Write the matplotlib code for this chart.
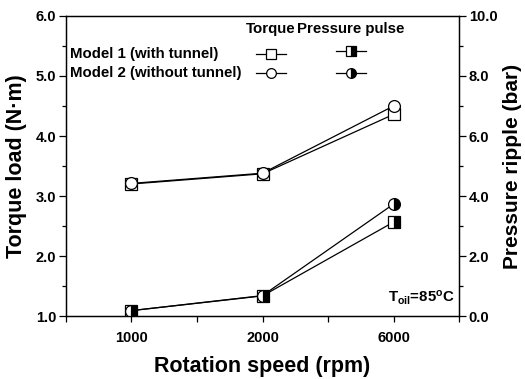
import matplotlib
matplotlib.use("Agg")
import matplotlib.pyplot as plt
import numpy as np
from matplotlib.lines import Line2D
from matplotlib.ticker import MultipleLocator, FormatStrFormatter

plt.rcParams["font.family"] = ["Liberation Sans", "DejaVu Sans"]
plt.rcParams["font.weight"] = "bold"
plt.rcParams["mathtext.fontset"] = "custom"
plt.rcParams["mathtext.rm"] = "Liberation Sans:bold"
plt.rcParams["mathtext.it"] = "Liberation Sans:bold"
plt.rcParams["mathtext.bf"] = "Liberation Sans:bold"

# rotation speeds (categorical on the x axis)
speeds = ["1000", "2000", "6000"]

# torque load, N*m
torque_model1 = [3.20, 3.37, 4.36]
torque_model2 = [3.21, 3.38, 4.50]

# pressure ripple, bar
pressure_model1 = [0.18, 0.67, 3.13]
pressure_model2 = [0.18, 0.68, 3.73]

model_labels = ["Model 1 (with tunnel)", "Model 2 (without tunnel)"]

x = np.arange(1, len(speeds) + 1)

fig = plt.figure(figsize=(5.25, 3.79), dpi=100)
ax = fig.add_axes([0.1257, 0.1662, 0.7486, 0.7916])
ax2 = ax.twinx()

line_kw = dict(color="black", lw=0.9, ms=8.5, markeredgewidth=0.9,
               markeredgecolor="black")

ax.plot(x, torque_model1, marker="s", mfc="white", **line_kw)
ax.plot(x, torque_model2, marker="o", mfc="white", **line_kw)
ax2.plot(x, pressure_model1, marker="s", fillstyle="right", mfc="black",
         markerfacecoloralt="white", **line_kw)
ax2.plot(x, pressure_model2, marker="o", fillstyle="right", mfc="black",
         markerfacecoloralt="white", **line_kw)

ax.set_xlim(0.5, 3.5)
ax.set_ylim(1.0, 6.0)
ax2.set_ylim(0.0, 10.0)

ax.set_xticks(x)
ax.set_xticklabels(speeds)
ax.xaxis.set_minor_locator(MultipleLocator(0.5))
ax.yaxis.set_major_locator(MultipleLocator(1.0))
ax.yaxis.set_minor_locator(MultipleLocator(0.5))
ax2.yaxis.set_major_locator(MultipleLocator(2.0))
ax2.yaxis.set_minor_locator(MultipleLocator(1.0))
ax.yaxis.set_major_formatter(FormatStrFormatter("%.1f"))
ax2.yaxis.set_major_formatter(FormatStrFormatter("%.1f"))

for a in (ax, ax2):
    a.tick_params(which="major", direction="out", length=5, width=0.9,
                  labelsize=10.5, pad=2)
    a.tick_params(which="minor", direction="out", length=3, width=0.9)
    for s in a.spines.values():
        s.set_linewidth(0.9)
ax.tick_params(axis="x", which="both", length=4, pad=7)

ax.set_xlabel("Rotation speed (rpm)", fontsize=15.5, fontweight="bold", labelpad=8)
ax.set_ylabel("Torque load (N\u00b7m)", fontsize=15.5, fontweight="bold", labelpad=6)
ax2.set_ylabel("Pressure ripple (bar)", fontsize=15, fontweight="bold", labelpad=4)

# legend table drawn in axes coordinates
ax.text(0.522, 0.957, "Torque", transform=ax.transAxes, ha="center",
        va="center", fontsize=10.8, fontweight="bold")
ax.text(0.725, 0.957, "Pressure pulse", transform=ax.transAxes, ha="center",
        va="center", fontsize=10.8, fontweight="bold")

row_y = [0.873, 0.810]
press_y = [0.883, 0.810]
markers = ["s", "o"]
for label, ry, py, m in zip(model_labels, row_y, press_y, markers):
    ax.text(0.010, ry, label, transform=ax.transAxes, ha="left", va="center",
            fontsize=10.8, fontweight="bold")
    ax.add_line(Line2D([0.483, 0.561], [ry, ry], transform=ax.transAxes,
                       color="black", lw=0.9))
    ax.add_line(Line2D([0.522], [ry], transform=ax.transAxes, marker=m,
                       ms=7, mfc="white", mec="black", mew=0.9, lw=0))
    ax.add_line(Line2D([0.686, 0.764], [py, py], transform=ax.transAxes,
                       color="black", lw=0.9))
    ax.add_line(Line2D([0.725], [py], transform=ax.transAxes, marker=m,
                       ms=7, fillstyle="right", mfc="black",
                       markerfacecoloralt="white", mec="black", mew=0.9, lw=0))

ax.text(0.99, 0.03, r"T$_{\rm oil}$=85$^{\rm o}$C", transform=ax.transAxes,
        ha="right", va="bottom", fontsize=10.8, fontweight="bold")

fig.savefig("out.png", dpi=100)
